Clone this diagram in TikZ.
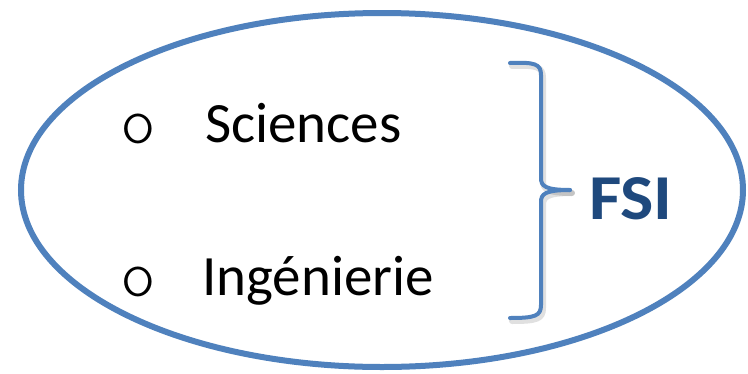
\documentclass[tikz,border=0pt]{standalone}
\usepackage{fontspec}
\setmainfont{Carlito}
\newfontfamily\bulletfont{lmmonolt10-regular}[Extension=.otf]
\definecolor{accent}{HTML}{4F81BD}
\definecolor{darkblue}{HTML}{1F497D}
\begin{document}
\begin{tikzpicture}[x=1pt,y=-1pt,
  item/.style={anchor=base west,inner sep=0pt,font=\fontsize{57}{60}\selectfont},
  bul/.style={anchor=base west,inner sep=0pt,font=\bulletfont\fontsize{68}{72}\selectfont},
  bracestyle/.style={draw=accent,line width=4pt,line cap=round,line join=round}]
\useasboundingbox (0,0) rectangle (748,373);
\fill[white] (0,0) rectangle (748,373);
\draw[accent,line width=6pt] (382,190) ellipse [x radius=361pt,y radius=177pt];
% brace shadow
\begin{scope}[shift={(2,3)},black,opacity=0.12]
\draw[line width=6pt,line cap=round,line join=round] (510,63) .. controls (535,62) and (541,64) .. (541,75) -- (541,178) .. controls (541,186) and (545,190) .. (570,190);
\draw[line width=6pt,line cap=round,line join=round] (570,190) .. controls (545,190) and (541,194) .. (541,202) -- (541,305) .. controls (541,316) and (535,318) .. (510,318);
\end{scope}
\draw[bracestyle] (510,63) .. controls (535,62) and (541,64) .. (541,75) -- (541,178) .. controls (541,186) and (545,190) .. (570,190);
\draw[bracestyle] (570,190) .. controls (545,190) and (541,194) .. (541,202) -- (541,305) .. controls (541,316) and (535,318) .. (510,318);
\node[bul] (b1) at (120,143) {o};
\node[bul] (b2) at (120,296) {o};
\node[item] (sci) at (205,142) {Sciences};
\node[item] (ing) at (202,295) {Ingénierie};
\node[anchor=base west,inner sep=0pt,text=darkblue,font=\bfseries\fontsize{64}{70}\selectfont] (fsi) at (589,219) {\scalebox{1.1}[1]{FSI}};
\end{tikzpicture}
\end{document}
